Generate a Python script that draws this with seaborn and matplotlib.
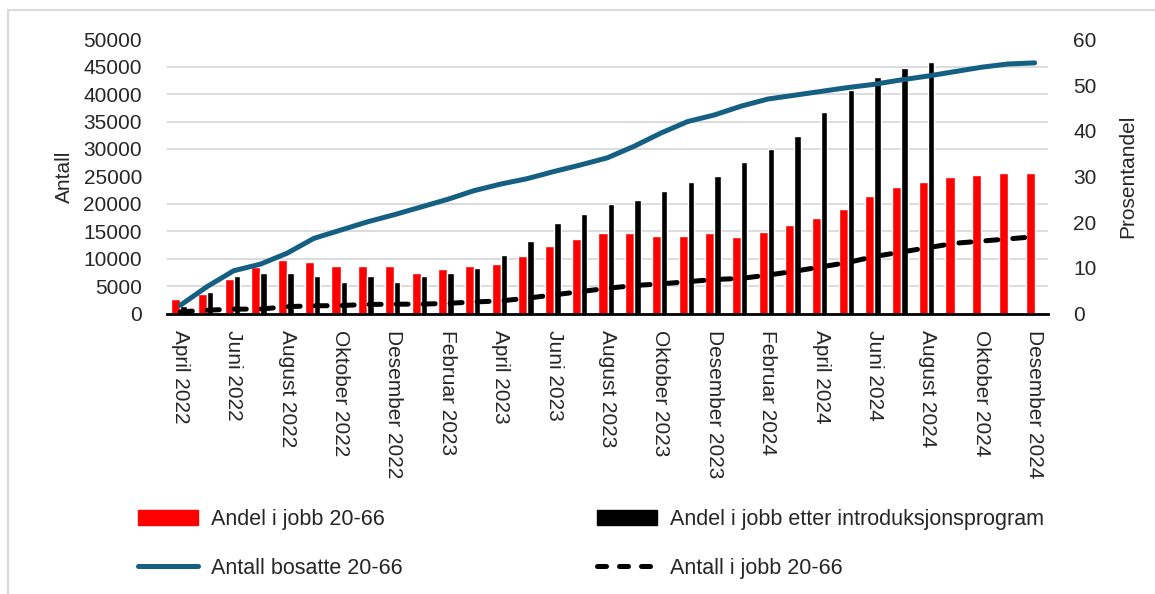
#!/usr/bin/env python3

# Bosatte flyktninger 20-66: antall og andel i jobb

import matplotlib
matplotlib.use("Agg")
import matplotlib.pyplot as plt
import matplotlib.patches as mpatches
import matplotlib.lines as mlines
import seaborn as sns
import pandas as pd
import numpy as np

months = ["April 2022", "Mai 2022", "Juni 2022", "Juli 2022", "August 2022",
          "September 2022", "Oktober 2022", "November 2022", "Desember 2022",
          "Januar 2023", "Februar 2023", "Mars 2023", "April 2023", "Mai 2023",
          "Juni 2023", "Juli 2023", "August 2023", "September 2023",
          "Oktober 2023", "November 2023", "Desember 2023", "Januar 2024",
          "Februar 2024", "Mars 2024", "April 2024", "Mai 2024", "Juni 2024",
          "Juli 2024", "August 2024", "September 2024", "Oktober 2024",
          "November 2024", "Desember 2024"]

# Prosent (hoyre akse)
andel_jobb = [3.2, 4.2, 7.6, 10.1, 11.6, 11.3, 10.3, 10.3, 10.4, 8.8, 9.7,
              10.4, 10.8, 12.5, 14.7, 16.4, 17.6, 17.6, 17.0, 17.0, 17.6, 16.7,
              17.9, 19.3, 20.9, 22.9, 25.7, 27.7, 28.8, 29.9, 30.2, 30.7, 30.7]
andel_intro = [1.6, 4.8, 8.1, 8.8, 8.8, 8.1, 6.8, 8.1, 6.8, 8.1, 8.8, 10.0,
               12.8, 15.8, 19.8, 21.8, 24.0, 24.9, 26.8, 28.8, 30.0, 33.1,
               35.9, 38.9, 44.0, 48.9, 51.8, 53.8, 55.0,
               np.nan, np.nan, np.nan, np.nan]

# Antall (venstre akse)
antall_bosatte = [1500, 4900, 7800, 9000, 11000, 13700, 15200, 16700, 18000,
                  19400, 20800, 22400, 23600, 24600, 25900, 27100, 28400,
                  30500, 32900, 35000, 36200, 37800, 39100, 39800, 40500,
                  41200, 41800, 42600, 43300, 44100, 44900, 45500, 45700]
antall_jobb = [300, 600, 800, 800, 1250, 1400, 1450, 1650, 1700, 1700, 1850,
               2100, 2300, 2800, 3400, 4000, 4600, 5100, 5400, 5800, 6200,
               6400, 7000, 7700, 8500, 9300, 10400, 11200, 12000, 12800,
               13200, 13600, 14000]

left_ticks = list(range(0, 50001, 5000))
right_ticks = list(range(0, 61, 10))

RED = "#FF0000"
BLUE = "#156082"
TXT = "#262626"

sns.set_style("white")
plt.rcParams["font.family"] = ["Liberation Sans", "DejaVu Sans"]


def main():
    idx = np.arange(len(months))
    bars = pd.concat([
        pd.DataFrame({"pos": idx, "Prosent": andel_jobb,
                      "Serie": "Andel i jobb 20-66"}),
        pd.DataFrame({"pos": idx, "Prosent": andel_intro,
                      "Serie": "Andel i jobb etter introduksjonsprogram"}),
    ], ignore_index=True)
    lines = pd.DataFrame({"pos": idx, "bosatte": antall_bosatte,
                          "jobb": antall_jobb})

    fig = plt.figure(figsize=(11.55, 5.94), dpi=100)
    ax = fig.add_axes([167 / 1155, 1 - 313.5 / 594, 881 / 1155, 274.2 / 594])

    sns.barplot(data=bars, x="pos", y="Prosent", hue="Serie",
                hue_order=["Andel i jobb 20-66",
                           "Andel i jobb etter introduksjonsprogram"],
                palette=[RED, "black"], saturation=1, width=0.6, gap=0,
                legend=False, ax=ax)
    # excel-like: red a bit wider, black a bit narrower
    for p in ax.containers[0]:
        p.set_x(p.get_x() - 0.04)
        p.set_width(p.get_width() + 0.04)
    for p in ax.containers[1]:
        p.set_width(p.get_width() - 0.06)

    ax2 = ax.twinx()
    sns.lineplot(data=lines, x="pos", y="bosatte", color=BLUE, linewidth=3.6,
                 solid_capstyle="round", ax=ax2)
    sns.lineplot(data=lines, x="pos", y="jobb", color="black", linewidth=3.6,
                 linestyle=(0, (2.4, 3.0)), dash_capstyle="round", ax=ax2)

    # right axis (percent, bars)
    ax.set_ylim(0, 60)
    ax.set_xlim(-0.5, len(months) - 0.5)
    ax.yaxis.tick_right()
    ax.yaxis.set_label_position("right")
    ax.set_yticks(right_ticks)
    ax.set_yticks(np.arange(0, 61, 6), minor=True)
    ax.grid(False)
    ax.grid(axis="y", which="minor", color="#D9D9D9", linewidth=1.3)
    ax.set_axisbelow(True)
    ax.tick_params(axis="y", which="both", length=0, pad=18,
                   labelsize=15, labelcolor=TXT, left=False, labelleft=False,
                   right=True, labelright=True)
    ax.tick_params(axis="y", which="minor", labelright=False)
    ax.set_ylabel("Prosentandel", fontsize=15, color=TXT)
    ax.yaxis.set_label_coords(1.08, 0.5)

    # x axis: ticks between categories, labels every second month
    ax.set_xticks(np.arange(-0.5, len(months), 1))
    ax.set_xticklabels([])
    ax.set_xticks(idx[::2], minor=True)
    ax.set_xticklabels(months[::2], minor=True)
    ax.tick_params(axis="x", which="major", direction="in", length=6,
                   width=1.5, color="black")
    ax.tick_params(axis="x", which="minor", length=0, pad=12,
                   labelsize=15, labelcolor=TXT, labelrotation=270)
    ax.set_xlabel("")
    for s in ["top", "left", "right"]:
        ax.spines[s].set_visible(False)
    ax.spines["bottom"].set_color("black")
    ax.spines["bottom"].set_linewidth(2)

    # left axis (counts, lines)
    ax2.set_ylim(0, 50000)
    ax2.set_xlim(-0.5, len(months) - 0.5)
    ax2.yaxis.tick_left()
    ax2.yaxis.set_label_position("left")
    ax2.set_yticks(left_ticks)
    ax2.tick_params(axis="y", length=0, pad=18, labelsize=15, labelcolor=TXT)
    ax2.set_ylabel("Antall", fontsize=15, color=TXT)
    ax2.yaxis.set_label_coords(-0.106, 0.5)
    ax2.set_xlabel("")
    for s in ax2.spines.values():
        s.set_visible(False)

    handles = [
        mpatches.Patch(color=RED, label="Andel i jobb 20-66"),
        mlines.Line2D([], [], color=BLUE, linewidth=3.6, solid_capstyle="round",
                      label="Antall bosatte 20-66"),
        mpatches.Patch(color="black",
                       label="Andel i jobb etter introduksjonsprogram"),
        mlines.Line2D([], [], color="black", linewidth=3.6,
                      linestyle=(0, (1.8, 2.6)), dash_capstyle="round",
                      label="Antall i jobb 20-66"),
    ]
    fig.legend(handles=handles, loc="center left",
               bbox_to_anchor=(138 / 1155, 1 - 544 / 594), ncol=2,
               frameon=False, borderpad=0, borderaxespad=0,
               prop={"family": ["Liberation Sans"], "size": 15.5},
               handlelength=2.8, handletextpad=0.6, columnspacing=9.0,
               labelspacing=1.3, labelcolor=TXT)

    # chart area border (excel)
    fig.add_artist(mpatches.Rectangle((8 / 1155, -0.1), 1.2, 1.1 - 10 / 594,
                                      transform=fig.transFigure, fill=False,
                                      edgecolor="#D9D9D9", linewidth=1.5))

    fig.savefig("out.png", dpi=100)


if __name__ == "__main__":
    main()
